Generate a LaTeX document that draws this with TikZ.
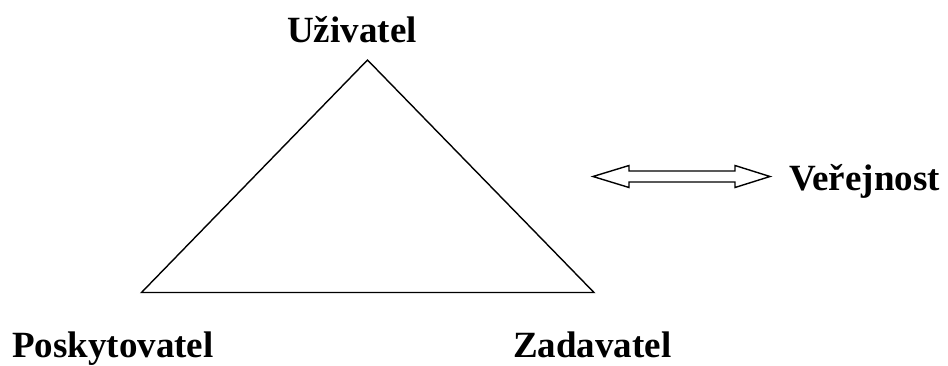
\documentclass[tikz,border=0pt]{standalone}
\usepackage{fontspec}
\setmainfont{Liberation Serif}
\begin{document}
\begin{tikzpicture}[x=1pt,y=-1pt,
  lbl/.style={inner sep=0pt,font=\fontsize{37}{40}\selectfont\bfseries},
  edge/.style={draw=black,line width=1.4pt,line join=miter},
  dblarrow/.style={draw=black,line width=1.4pt,fill=white,line join=miter}]
\useasboundingbox (0,0) rectangle (948,365);
\coordinate (top) at (367.5,60);
\coordinate (bl) at (141.5,292.5);
\coordinate (br) at (594,292.5);
\draw[edge] (top) -- (bl) -- (br) -- cycle;
\node[lbl,anchor=base] (uz) at (352,42) {Uživatel};
\node[lbl,anchor=base west] (po) at (12,357) {Poskytovatel};
\node[lbl,anchor=base west] (za) at (513,357) {Zadavatel};
\node[lbl,anchor=base west] (ve) at (789,190) {Veřejnost};
\draw[dblarrow] (593,176.5) -- (629,165.5) -- (629,171) -- (735,171) -- (735,165.5)
  -- (770,176.5) -- (735,187.5) -- (735,182) -- (629,182) -- (629,187.5) -- cycle;
\end{tikzpicture}
\end{document}
